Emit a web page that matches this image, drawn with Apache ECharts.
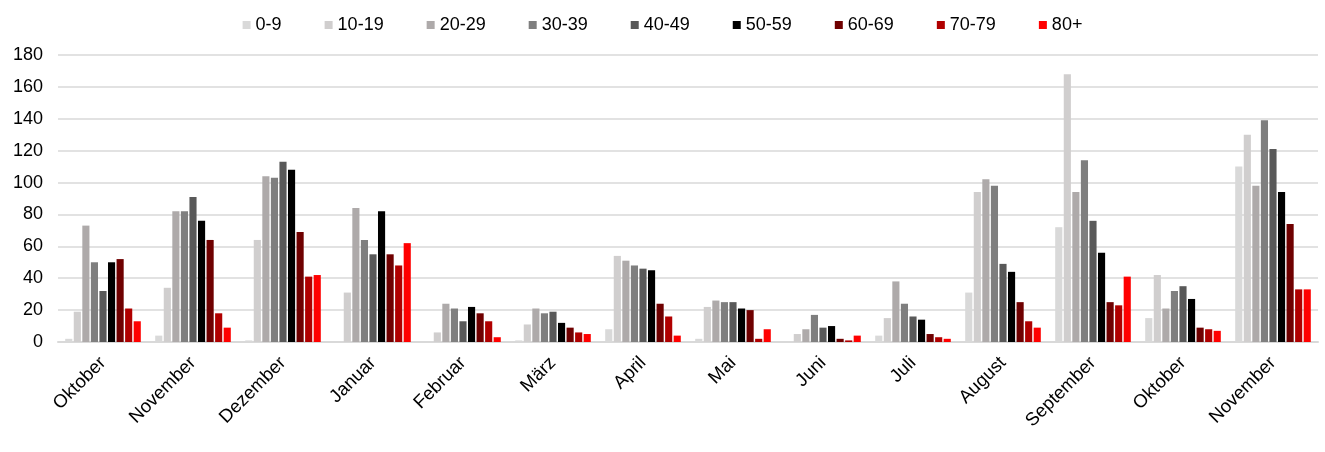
<!DOCTYPE html>
<html>
<head>
<meta charset="utf-8">
<script src="https://cdn.jsdelivr.net/npm/echarts@6/dist/echarts.min.js"></script>
<style>
  html, body { margin: 0; padding: 0; background: #fff; }
  #chart { width: 1325px; height: 452px; }
</style>
</head>
<body>
<div id="chart"></div>
<script>
// Monate
var months = ['Oktober', 'November', 'Dezember', 'Januar', 'Februar', 'März', 'April',
    'Mai', 'Juni', 'Juli', 'August', 'September', 'Oktober', 'November'];

// Altersgruppen
var groups = ['0-9', '10-19', '20-29', '30-39', '40-49', '50-59', '60-69', '70-79', '80+'];
var colors = ['#d9d9d9', '#d0cece', '#aeaaaa', '#7f7f7f', '#595959', '#000000', '#6f0000', '#b00000', '#ff0000'];

// Werte je Altersgruppe (ein Wert pro Monat)
var age0_9   = [2, 4, 1, 0, 0, 1, 8, 2, 0, 4, 31, 72, 15, 110];
var age10_19 = [19, 34, 64, 31, 6, 11, 54, 22, 5, 15, 94, 168, 42, 130];
var age20_29 = [73, 82, 104, 84, 24, 21, 51, 26, 8, 38, 102, 94, 21, 98];
var age30_39 = [50, 82, 103, 64, 21, 18, 48, 25, 17, 24, 98, 114, 32, 139];
var age40_49 = [32, 91, 113, 55, 13, 19, 46, 25, 9, 16, 49, 76, 35, 121];
var age50_59 = [50, 76, 108, 82, 22, 12, 45, 21, 10, 14, 44, 56, 27, 94];
var age60_69 = [52, 64, 69, 55, 18, 9, 24, 20, 2, 5, 25, 25, 9, 74];
var age70_79 = [21, 18, 41, 48, 13, 6, 16, 2, 1, 3, 13, 23, 8, 33];
var age80    = [13, 9, 42, 62, 3, 5, 4, 8, 4, 2, 9, 41, 7, 33];

var yTicks = [0, 20, 40, 60, 80, 100, 120, 140, 160, 180];

var values = [age0_9, age10_19, age20_29, age30_39, age40_49, age50_59, age60_69, age70_79, age80];
var font = 'Liberation Sans, Arial, sans-serif';

var series = [];
for (var i = 0; i < groups.length; i++) {
    series.push({
        name: groups[i],
        type: 'bar',
        data: values[i],
        itemStyle: { color: colors[i] },
        barGap: '20%',
        barCategoryGap: '16%'
    });
}

var myChart = echarts.init(document.getElementById('chart'));
var option = {
    animation: false,
    backgroundColor: '#ffffff',
    legend: {
        data: groups,
        top: 11,
        left: 'center',
        icon: 'rect',
        itemWidth: 8,
        itemHeight: 8,
        itemGap: 43,
        textStyle: { fontFamily: font, fontSize: 18, color: '#000' }
    },
    grid: { left: 58, right: 7, top: 55, bottom: 110 },
    xAxis: {
        type: 'category',
        data: months,
        axisLine: { lineStyle: { color: '#d9d9d9', width: 2 } },
        axisTick: { show: false },
        axisLabel: {
            rotate: 45,
            interval: 0,
            margin: 18,
            fontFamily: font,
            fontSize: 18.5,
            color: '#000'
        }
    },
    yAxis: {
        type: 'value',
        min: yTicks[0],
        max: yTicks[yTicks.length - 1],
        interval: 20,
        axisLine: { show: false },
        axisTick: { show: false },
        splitLine: { lineStyle: { color: '#d9d9d9', width: 1.5 } },
        axisLabel: { margin: 15, fontFamily: font, fontSize: 18, color: '#000' }
    },
    series: series
};
myChart.setOption(option);
</script>
</body>
</html>
